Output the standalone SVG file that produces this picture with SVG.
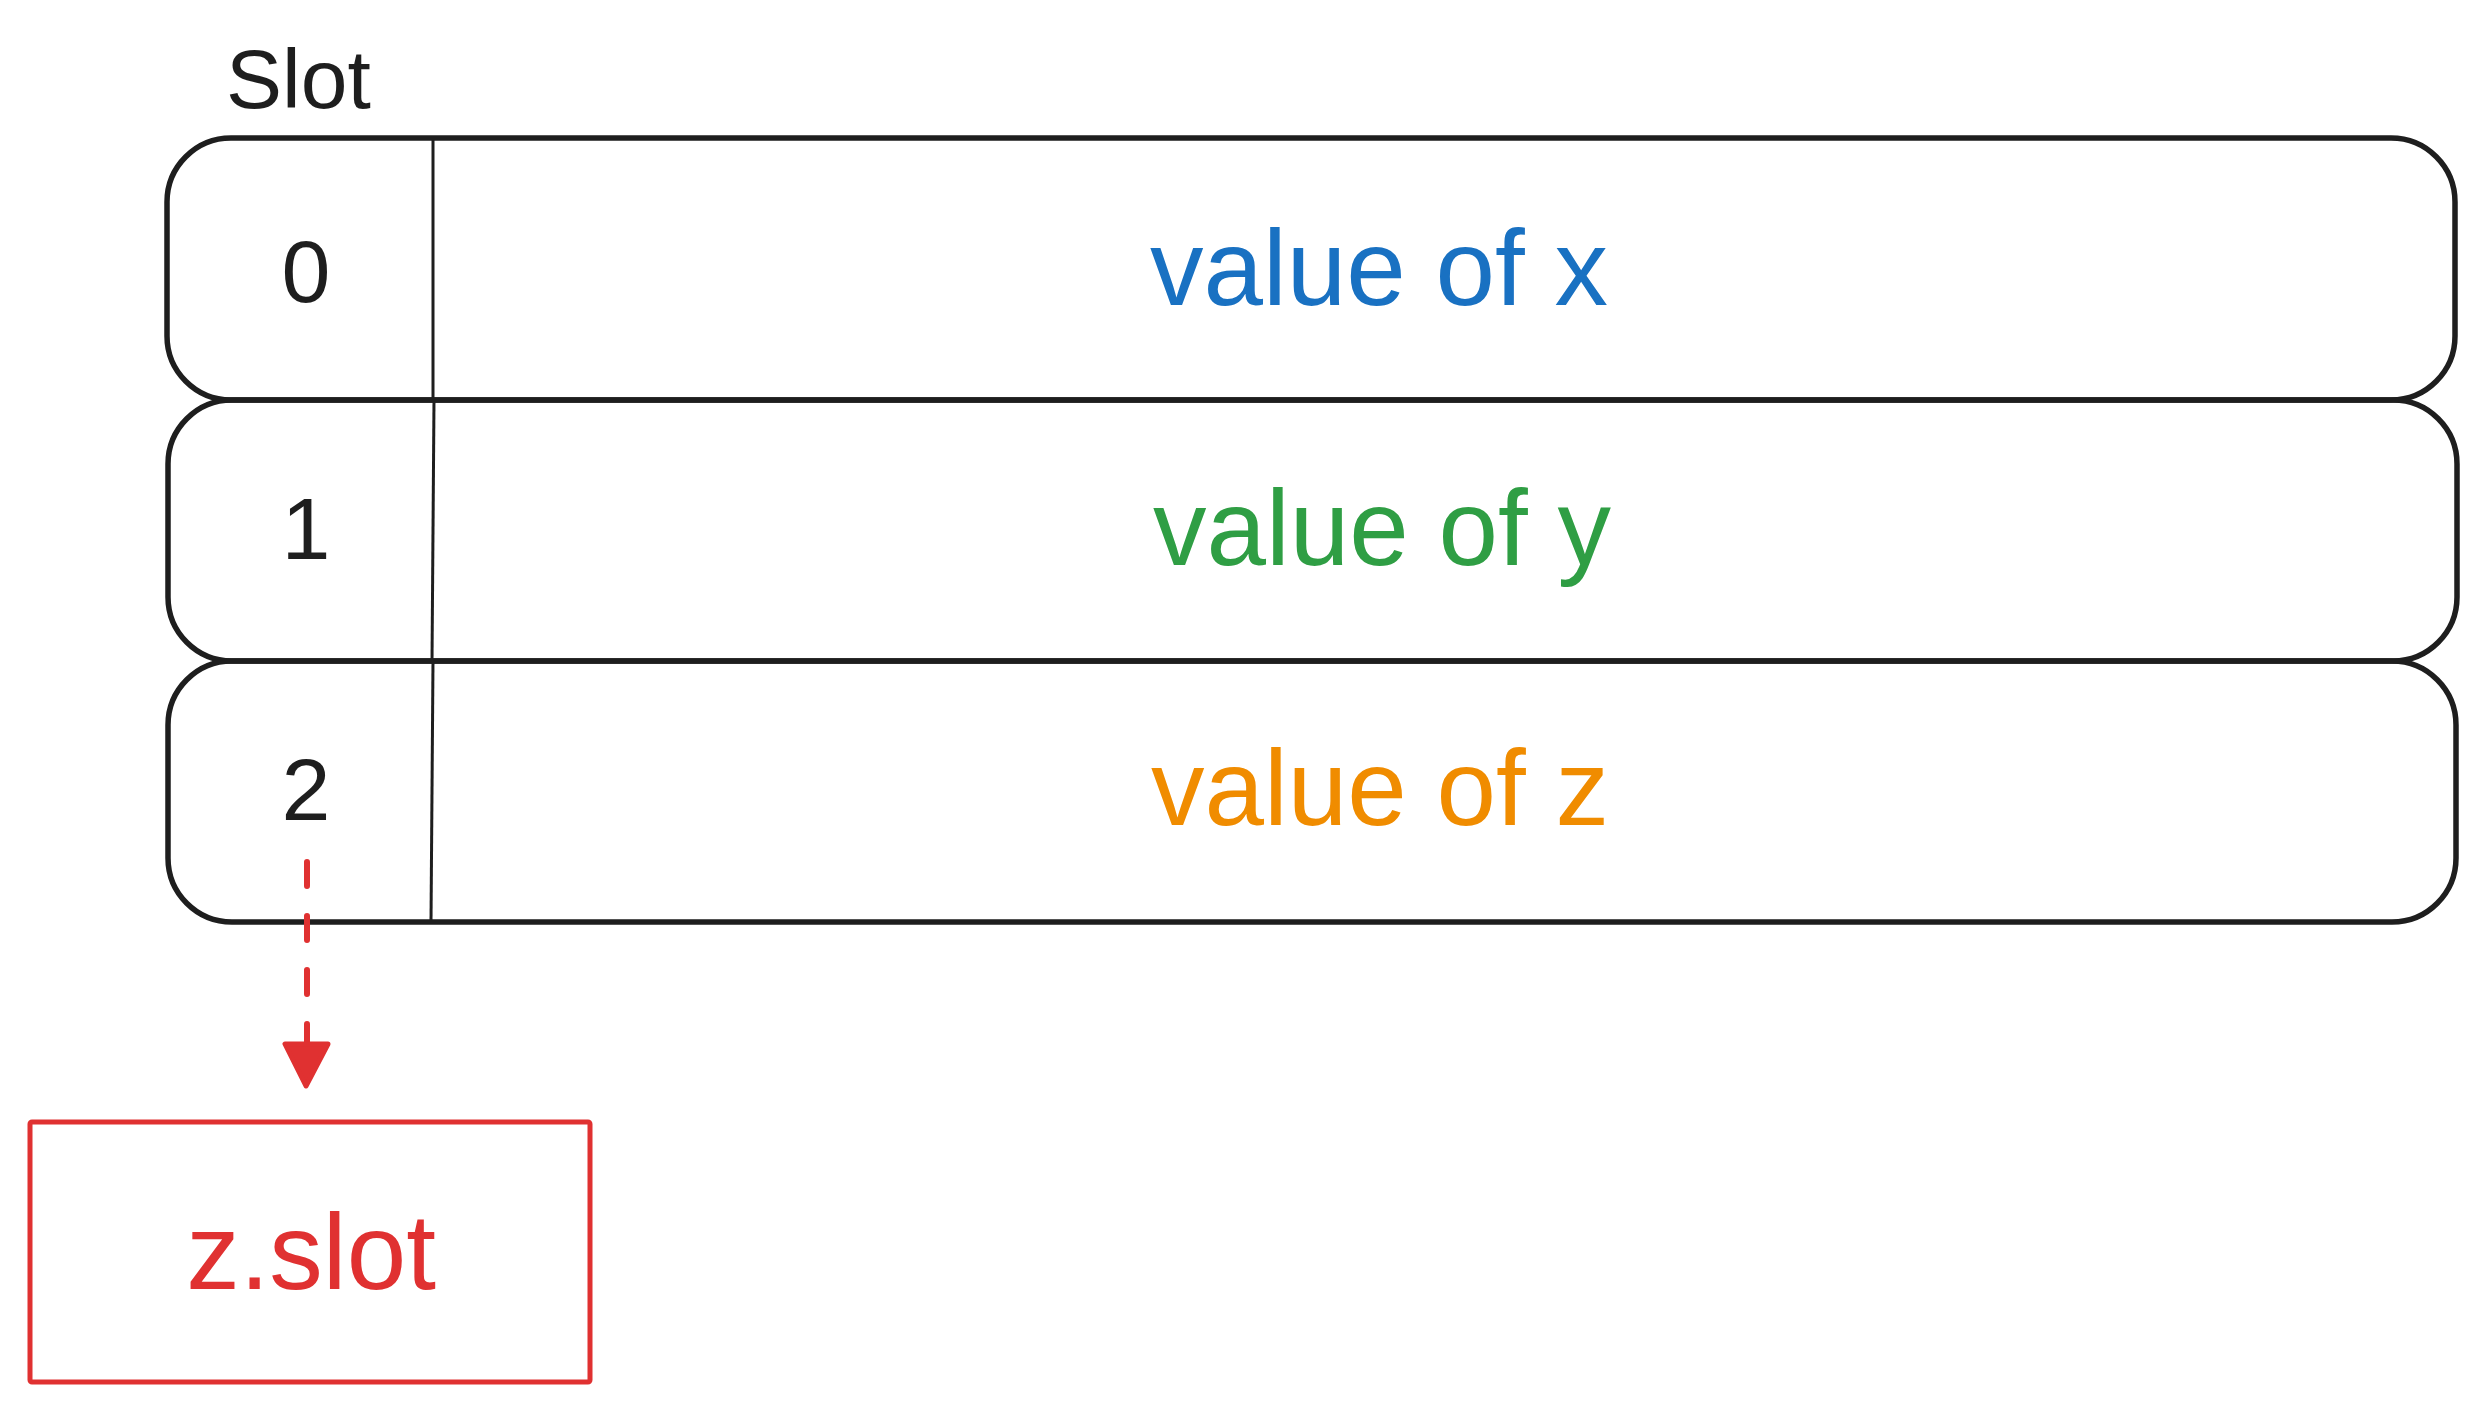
<svg xmlns="http://www.w3.org/2000/svg" width="2486" height="1413" viewBox="0 0 2486 1413">
<style>
.row{fill:none;stroke:#1e1e1e;stroke-width:5.5}
.div{stroke:#1e1e1e;stroke-width:3;fill:none}
.t{font-family:"Liberation Sans",Arial,Helvetica,sans-serif}
.num{font-size:88px;fill:#1e1e1e;text-anchor:middle}
.val{font-size:107px;text-anchor:middle}
</style>
<rect width="2486" height="1413" fill="#ffffff"/>
<text id="slot-title" class="t" x="226" y="108" font-size="84" fill="#1e1e1e">Slot</text>
<g id="row0">
<rect class="row" x="167" y="138" width="2288" height="262" rx="64" ry="64"/>
<line class="div" x1="433" y1="136" x2="433" y2="401"/>
<text class="t num" x="306" y="302">0</text>
<text class="t val" x="1379" y="305" fill="#1971c2">value of x</text>
</g>
<g id="row1">
<rect class="row" x="168" y="400" width="2289" height="261" rx="64" ry="64"/>
<line class="div" x1="434" y1="400" x2="432" y2="662"/>
<text class="t num" x="306" y="559">1</text>
<text class="t val" x="1382" y="565" fill="#2f9e44">value of y</text>
</g>
<g id="row2">
<rect class="row" x="168" y="661" width="2288" height="261" rx="64" ry="64"/>
<line class="div" x1="433" y1="661" x2="431" y2="922"/>
<text class="t num" x="306" y="820">2</text>
<text class="t val" x="1380" y="825" fill="#f08c00">value of z</text>
</g>
<g id="zslot">
<rect x="30" y="1122" width="560" height="260" rx="2" fill="none" stroke="#e03131" stroke-width="5"/>
<text class="t val" x="311" y="1289" fill="#e03131">z.slot</text>
</g>
<g id="connectors">
<line x1="307" y1="862" x2="307" y2="1045" stroke="#e03131" stroke-width="6" stroke-linecap="round" stroke-dasharray="24 30"/>
<polygon points="285,1044 328,1044 306,1086" fill="#e03131" stroke="#e03131" stroke-width="5" stroke-linejoin="round"/>
</g>
</svg>
